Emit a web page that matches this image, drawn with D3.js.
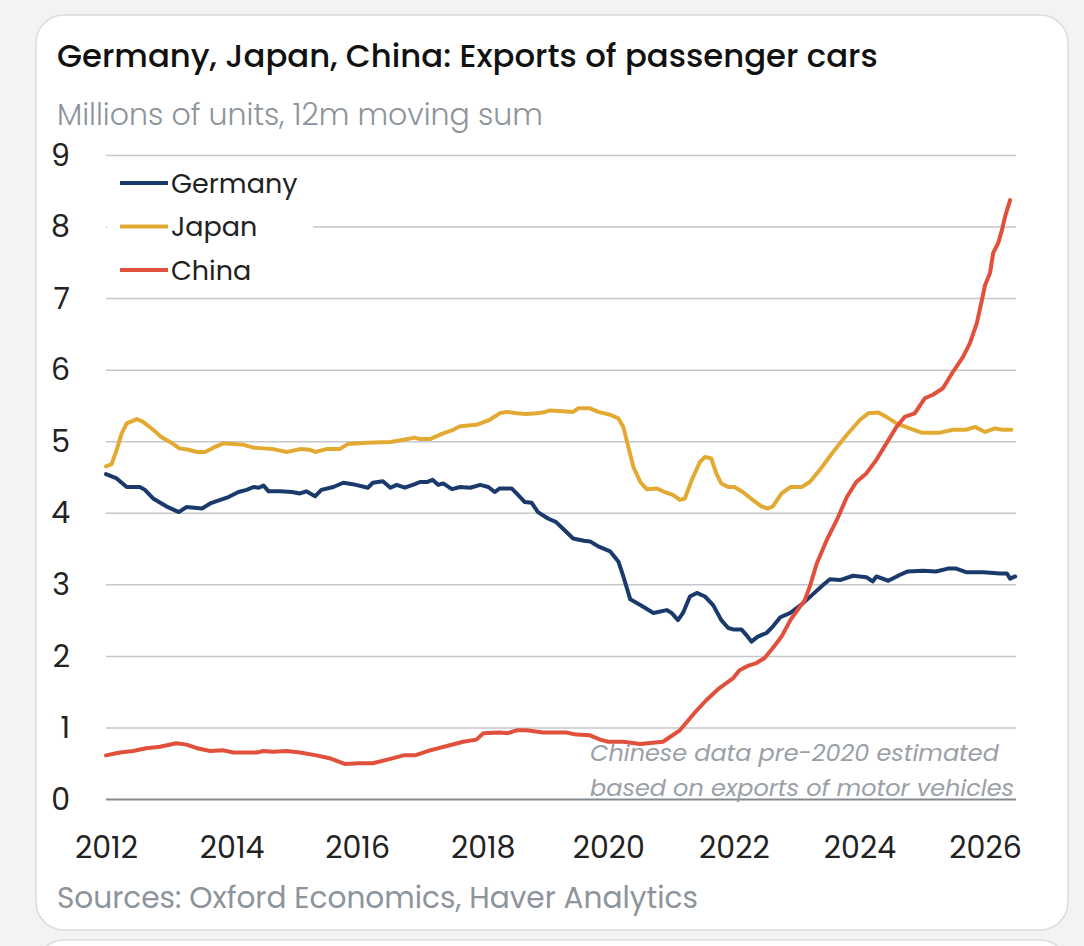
<!DOCTYPE html>
<html>
<head>
<meta charset="utf-8">
<script src="https://cdn.jsdelivr.net/npm/d3@7"></script>
<style>
  html, body { margin: 0; padding: 0; background: #f3f3f4; }
  svg { display: block; }
</style>
</head>
<body>
<div id="chart"></div>
<script>
// ---- data ([decimal year, millions of units]) ----
const seriesNames = ["Germany", "Japan", "China"];
const seriesColors = ["#1b3a6c", "#e3aa33", "#e0503a"];

const germany = [
  [2012.00,4.54],[2012.17,4.48],[2012.33,4.36],[2012.54,4.36],[2012.62,4.32],[2012.75,4.20],
  [2012.96,4.09],[2013.16,4.01],[2013.28,4.08],[2013.53,4.06],[2013.66,4.13],[2013.82,4.18],
  [2013.95,4.22],[2014.11,4.29],[2014.24,4.32],[2014.35,4.36],[2014.43,4.35],[2014.51,4.38],
  [2014.59,4.30],[2014.77,4.30],[2014.96,4.29],[2015.09,4.27],[2015.19,4.30],[2015.33,4.23],
  [2015.43,4.32],[2015.62,4.36],[2015.78,4.42],[2015.93,4.40],[2016.17,4.35],[2016.25,4.42],
  [2016.41,4.44],[2016.53,4.35],[2016.63,4.39],[2016.76,4.35],[2016.92,4.40],[2017.00,4.43],
  [2017.11,4.43],[2017.20,4.46],[2017.29,4.39],[2017.37,4.41],[2017.51,4.33],[2017.64,4.36],
  [2017.80,4.35],[2017.96,4.39],[2018.09,4.36],[2018.19,4.29],[2018.27,4.34],[2018.46,4.34],
  [2018.54,4.27],[2018.67,4.15],[2018.78,4.14],[2018.88,4.01],[2019.04,3.92],[2019.17,3.87],
  [2019.30,3.76],[2019.44,3.64],[2019.61,3.61],[2019.71,3.60],[2019.84,3.53],[2020.03,3.46],
  [2020.16,3.32],[2020.24,3.11],[2020.35,2.79],[2020.51,2.71],[2020.72,2.60],[2020.93,2.64],
  [2021.01,2.60],[2021.11,2.50],[2021.19,2.60],[2021.30,2.83],[2021.41,2.88],[2021.54,2.83],
  [2021.67,2.71],[2021.80,2.50],[2021.91,2.39],[2021.99,2.37],[2022.12,2.37],[2022.20,2.29],
  [2022.28,2.20],[2022.38,2.27],[2022.52,2.32],[2022.62,2.41],[2022.74,2.54],[2022.90,2.60],
  [2023.08,2.72],[2023.27,2.87],[2023.42,2.99],[2023.53,3.07],[2023.69,3.06],[2023.90,3.12],
  [2024.11,3.10],[2024.21,3.04],[2024.27,3.11],[2024.46,3.05],[2024.64,3.13],[2024.77,3.18],
  [2025.01,3.19],[2025.22,3.18],[2025.41,3.22],[2025.54,3.22],[2025.70,3.17],[2025.97,3.17],
  [2026.24,3.15],[2026.35,3.15],[2026.40,3.08],[2026.48,3.11]
];

const japan = [
  [2012.00,4.65],[2012.09,4.68],[2012.17,4.88],[2012.25,5.11],[2012.33,5.25],[2012.49,5.31],
  [2012.59,5.27],[2012.75,5.16],[2012.88,5.06],[2013.04,4.98],[2013.17,4.90],[2013.32,4.88],
  [2013.45,4.85],[2013.58,4.85],[2013.71,4.91],[2013.87,4.97],[2014.03,4.96],[2014.19,4.95],
  [2014.35,4.91],[2014.51,4.90],[2014.66,4.89],[2014.88,4.85],[2015.09,4.89],[2015.25,4.88],
  [2015.33,4.85],[2015.51,4.89],[2015.72,4.89],[2015.85,4.96],[2016.15,4.98],[2016.53,4.99],
  [2016.74,5.02],[2016.92,5.05],[2017.00,5.03],[2017.16,5.03],[2017.37,5.11],[2017.53,5.16],
  [2017.64,5.21],[2017.90,5.23],[2018.11,5.30],[2018.27,5.39],[2018.38,5.41],[2018.54,5.39],
  [2018.69,5.38],[2018.86,5.39],[2018.96,5.40],[2019.07,5.43],[2019.28,5.42],[2019.44,5.41],
  [2019.52,5.46],[2019.71,5.46],[2019.84,5.41],[2020.03,5.37],[2020.16,5.32],[2020.24,5.20],
  [2020.32,4.92],[2020.40,4.64],[2020.51,4.43],[2020.61,4.33],[2020.77,4.34],[2020.90,4.29],
  [2021.03,4.25],[2021.14,4.18],[2021.22,4.20],[2021.33,4.46],[2021.46,4.71],[2021.54,4.78],
  [2021.64,4.76],[2021.72,4.55],[2021.80,4.41],[2021.91,4.36],[2022.01,4.36],[2022.14,4.29],
  [2022.30,4.18],[2022.44,4.09],[2022.54,4.06],[2022.62,4.09],[2022.76,4.27],[2022.90,4.36],
  [2023.08,4.36],[2023.21,4.43],[2023.37,4.60],[2023.58,4.85],[2023.80,5.09],[2024.01,5.30],
  [2024.14,5.39],[2024.30,5.40],[2024.43,5.34],[2024.59,5.25],[2024.80,5.18],[2024.99,5.12],
  [2025.28,5.12],[2025.49,5.16],[2025.70,5.16],[2025.84,5.20],[2026.00,5.13],[2026.16,5.18],
  [2026.27,5.16],[2026.42,5.16]
];

const china = [
  [2012.00,0.61],[2012.22,0.65],[2012.43,0.67],[2012.64,0.71],[2012.86,0.73],[2013.12,0.78],
  [2013.28,0.76],[2013.45,0.71],[2013.66,0.67],[2013.87,0.68],[2014.03,0.65],[2014.40,0.65],
  [2014.51,0.67],[2014.66,0.66],[2014.88,0.67],[2015.09,0.65],[2015.35,0.61],[2015.56,0.57],
  [2015.80,0.49],[2016.04,0.50],[2016.25,0.50],[2016.53,0.56],[2016.74,0.61],[2016.92,0.61],
  [2017.16,0.68],[2017.43,0.74],[2017.69,0.80],[2017.90,0.83],[2018.01,0.92],[2018.27,0.93],
  [2018.40,0.92],[2018.54,0.96],[2018.70,0.96],[2018.96,0.93],[2019.33,0.93],[2019.49,0.90],
  [2019.71,0.89],[2019.87,0.83],[2020.00,0.80],[2020.24,0.80],[2020.51,0.77],[2020.87,0.80],
  [2021.14,0.96],[2021.41,1.24],[2021.56,1.38],[2021.77,1.55],[2021.99,1.69],[2022.09,1.80],
  [2022.22,1.86],[2022.36,1.90],[2022.49,1.97],[2022.62,2.11],[2022.76,2.27],[2022.90,2.50],
  [2023.03,2.66],[2023.13,2.78],[2023.21,2.97],[2023.32,3.29],[2023.48,3.62],[2023.64,3.90],
  [2023.80,4.22],[2023.95,4.43],[2024.11,4.55],[2024.27,4.74],[2024.43,4.97],[2024.59,5.20],
  [2024.72,5.34],[2024.88,5.39],[2025.04,5.60],[2025.17,5.65],[2025.33,5.74],[2025.49,5.97],
  [2025.65,6.18],[2025.76,6.37],[2025.87,6.65],[2025.95,6.97],[2026.00,7.18],[2026.08,7.35],
  [2026.13,7.63],[2026.21,7.77],[2026.27,7.95],[2026.32,8.14],[2026.40,8.37]
];

const yTicks = [0, 1, 2, 3, 4, 5, 6, 7, 8, 9];
const xTicks = [2012, 2014, 2016, 2018, 2020, 2022, 2024, 2026];

const titleText = "Germany, Japan, China: Exports of passenger cars";
const subtitleText = "Millions of units, 12m moving sum";
const sourceText = "Sources: Oxford Economics, Haver Analytics";
const noteLines = ["Chinese data pre-2020 estimated", "based on exports of motor vehicles"];

// ---- layout ----
const width = 1084, height = 946;
const font = "Poppins, 'DejaVu Sans', sans-serif";

const svg = d3.select("#chart").append("svg")
  .attr("width", width)
  .attr("height", height)
  .style("font-family", font);

// scale the font size so the text spans the same width as in the reference
function fitSize(sel, target) {
  sel.each(function() {
    const s = parseFloat(this.style.fontSize);
    const w = this.getComputedTextLength();
    d3.select(this).style("font-size", (s * target / w).toFixed(2) + "px");
  });
}

// cards
svg.append("rect").attr("x", 36).attr("y", 15).attr("width", 1032).attr("height", 915)
  .attr("rx", 28).attr("fill", "#fff").attr("stroke", "#d9dcdf").attr("stroke-width", 1.5);
svg.append("rect").attr("x", 36).attr("y", 940).attr("width", 1032).attr("height", 60)
  .attr("rx", 28).attr("fill", "#fff").attr("stroke", "#d9dcdf").attr("stroke-width", 1.5);

const x = d3.scaleLinear().domain([2012, 2026]).range([106, 985]);
const y = d3.scaleLinear().domain([0, 9]).range([799, 155]);
const plotLeft = 106, plotRight = 1016;

// gridlines + y labels
const yAxis = svg.append("g")
  .attr("transform", `translate(${plotLeft},0)`)
  .call(d3.axisLeft(y).tickValues(yTicks).tickSize(-(plotRight - plotLeft)).tickPadding(36).tickFormat(d3.format("d")));
yAxis.select(".domain").remove();
yAxis.selectAll(".tick line")
  .attr("stroke", d => d === 0 ? "#858a90" : "#c4c7cc")
  .attr("stroke-width", d => d === 0 ? 2 : 1.5);
yAxis.selectAll(".tick text")
  .attr("fill", "#222")
  .style("font-size", "30px")
  .style("font-family", font)
  .attr("dy", "0.34em");

const xAxis = svg.append("g")
  .attr("transform", `translate(0,${y(0)})`)
  .call(d3.axisBottom(x).tickValues(xTicks).tickSize(0).tickPadding(38).tickFormat(d3.format("d")));
xAxis.select(".domain").remove();
xAxis.selectAll(".tick text")
  .attr("fill", "#222")
  .style("font-size", "30px")
  .style("font-family", font);

// lines
const line = d3.line().x(d => x(d[0])).y(d => y(d[1]));
svg.append("g").selectAll("path")
  .data([germany, japan, china].map((d, i) => ({ values: d, color: seriesColors[i] })))
  .join("path")
  .attr("d", d => line(d.values))
  .attr("fill", "none")
  .attr("stroke", d => d.color)
  .attr("stroke-width", 4)
  .attr("stroke-linejoin", "round")
  .attr("stroke-linecap", "round");

// legend
const legend = svg.append("g");
legend.append("rect").attr("x", 107).attr("y", 160).attr("width", 206).attr("height", 130).attr("fill", "#fff");
const item = legend.selectAll("g.item")
  .data(seriesNames)
  .join("g")
  .attr("class", "item")
  .attr("transform", (d, i) => `translate(120,${183 + i * 43.5})`);
item.append("line").attr("x1", 0).attr("x2", 48)
  .attr("stroke", (d, i) => seriesColors[i]).attr("stroke-width", 4);
item.append("text").attr("x", 51).attr("dy", "0.36em")
  .attr("fill", "#222").style("font-size", "27px")
  .text(d => d);

// note
svg.append("g").selectAll("text")
  .data(noteLines)
  .join("text")
  .attr("x", 590)
  .attr("y", (d, i) => 761 + i * 35)
  .attr("fill", "#9aa0a6")
  .style("font-size", "24px")
  .style("font-style", "italic")
  .text(d => d)
  .each(function(d, i) { d3.select(this).call(fitSize, i === 0 ? 409 : 424); });

// titles
svg.append("text").attr("x", 57).attr("y", 67)
  .attr("fill", "#111").style("font-size", "28px").style("font-weight", 500)
  .text(titleText).call(fitSize, 821);
svg.append("text").attr("x", 57).attr("y", 125)
  .attr("fill", "#8d949b").style("font-size", "28px").style("font-weight", 300)
  .text(subtitleText).call(fitSize, 486);
svg.append("text").attr("x", 57).attr("y", 908)
  .attr("fill", "#8d949b").style("font-size", "27px")
  .text(sourceText).call(fitSize, 641);
</script>
</body>
</html>
